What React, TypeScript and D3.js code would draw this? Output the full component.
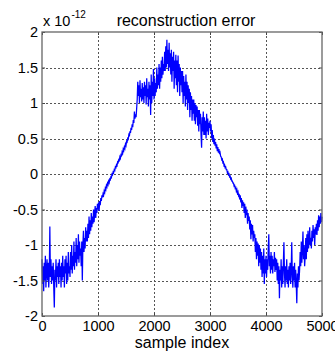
import React, { useEffect, useRef } from "react";
import * as d3 from "d3";

// reconstruction error, values in units of 1e-12, one value every 10 samples
const sampleStep = 10;
const errorValues = [
  -1.2, -1.55, -1.3, -1.65, -1.25, -1.5, -1.15, -1.6, -1.35, -1.2,
  -1.5, -1.25, -1.6, -1.4, -0.74, -1.45, -1.2, -1.55, -1.3, -1.5,
  -1.25, -1.6, -1.88, -1.35, -1.5, -1.2, -1.6, -1.3, -1.45, -1.25,
  -1.55, -1.2, -1.45, -1.3, -1.6, -1.25, -1.5, -1.15, -1.45, -1.3,
  -1.6, -1.2, -1.4, -1.15, -1.55, -1.25, -1.5, -1.1, -1.4, -1.3,
  -1.45, -1.1, -1.35, -1.0, -1.4, -1.15, -1.3, -0.95, -1.35, -1.1,
  -1.25, -0.9, -1.3, -1.0, -1.2, -0.85, -1.25, -0.95, -1.15, -1.05,
  -1.3, -0.95, -1.5, -1.0, -0.8, -1.1, -0.9, -1.05, -0.75, -0.95,
  -0.8, -0.95, -0.7, -0.9, -0.6, -0.85, -0.65, -0.8, -0.55, -0.75,
  -0.6, -0.7, -0.5, -0.68, -0.55, -0.45, -0.62, -0.48, -0.55, -0.42,
  -0.5, -0.4, -0.52, -0.38, -0.44, -0.34, -0.38, -0.3, -0.33, -0.28,
  -0.3, -0.24, -0.26, -0.2, -0.22, -0.16, -0.18, -0.13, -0.15, -0.1,
  -0.12, -0.07, -0.08, -0.04, -0.05, 0.0, -0.01, 0.03, 0.02, 0.06,
  0.05, 0.1, 0.09, 0.13, 0.12, 0.17, 0.16, 0.2, 0.19, 0.24,
  0.22, 0.27, 0.26, 0.31, 0.29, 0.35, 0.33, 0.38, 0.36, 0.42,
  0.4, 0.46, 0.45, 0.5, 0.49, 0.55, 0.53, 0.6, 0.58, 0.65,
  0.62, 0.7, 0.66, 0.76, 0.72, 0.88, 0.78, 0.84, 0.8, 0.92,
  1.05, 1.3, 1.1, 1.25, 1.0, 1.32, 1.08, 1.2, 1.02, 1.28,
  1.05, 1.22, 1.0, 1.3, 1.1, 1.25, 0.98, 1.35, 1.08, 1.2,
  0.95, 1.3, 1.05, 1.25, 0.83, 1.4, 1.0, 1.3, 1.1, 1.48,
  1.05, 1.35, 1.1, 1.28, 1.15, 1.5, 1.2, 1.4, 1.25, 1.55,
  1.2, 1.5, 1.3, 1.6, 1.35, 1.65, 1.4, 1.55, 1.45, 1.72,
  1.45, 1.8, 1.5, 1.89, 1.55, 1.75, 1.45, 1.85, 1.5, 1.7,
  1.4, 1.75, 1.3, 1.65, 1.45, 1.72, 1.2, 1.6, 1.35, 1.68,
  1.25, 1.6, 1.15, 1.67, 1.3, 1.55, 1.1, 1.5, 1.25, 1.45,
  1.15, 1.45, 1.0, 1.38, 1.1, 1.3, 0.95, 1.4, 1.05, 1.3,
  0.9, 1.25, 1.0, 1.2, 0.8, 1.15, 0.9, 1.1, 0.75, 1.05,
  0.85, 1.05, 0.75, 1.0, 0.7, 0.97, 0.8, 0.95, 0.68, 0.9,
  0.6, 0.9, 0.7, 0.85, 0.55, 0.37, 0.8, 0.6, 0.88, 0.55,
  0.8, 0.55, 0.75, 0.5, 0.85, 0.6, 0.78, 0.55, 0.72, 0.65,
  0.75, 0.6, 0.7, 0.5, 0.62, 0.45, 0.55, 0.42, 0.5, 0.4,
  0.45, 0.36, 0.42, 0.32, 0.38, 0.3, 0.35, 0.28, 0.3, 0.25,
  0.24, 0.2, 0.21, 0.16, 0.17, 0.12, 0.13, 0.09, 0.1, 0.06,
  0.06, 0.02, 0.03, -0.01, 0.0, -0.04, -0.03, -0.07, -0.06, -0.1,
  -0.1, -0.13, -0.13, -0.17, -0.16, -0.2, -0.19, -0.24, -0.22, -0.27,
  -0.25, -0.3, -0.28, -0.36, -0.3, -0.4, -0.34, -0.48, -0.37, -0.45,
  -0.4, -0.55, -0.42, -0.62, -0.46, -0.58, -0.5, -0.7, -0.55, -0.66,
  -0.6, -0.78, -0.65, -0.92, -0.7, -0.85, -0.72, -0.95, -0.8, -0.9,
  -0.85, -1.1, -0.9, -1.2, -0.95, -1.15, -0.98, -1.3, -1.0, -1.25,
  -1.05, -1.35, -1.1, -1.45, -1.15, -1.4, -1.05, -1.55, -1.2, -1.4,
  -1.15, -1.45, -1.2, -1.35, -1.05, -0.85, -1.3, -1.15, -1.4, -1.1,
  -1.35, -1.15, -1.4, -1.2, -1.3, -1.1, -1.38, -1.18, -1.35, -1.2,
  -1.5, -1.25, -1.55, -1.3, -1.75, -1.35, -1.5, -1.2, -1.6, -1.3,
  -1.55, -1.25, -0.96, -1.4, -1.6, -1.3, -1.5, -1.2, -1.55, -1.35,
  -1.6, -1.3, -1.5, -1.25, -1.55, -1.35, -0.96, -1.45, -1.6, -1.3,
  -1.5, -1.25, -1.6, -1.35, -1.55, -1.82, -1.4, -1.6, -1.3, -1.5,
  -1.35, -1.1, -1.3, -0.95, -1.25, -1.05, -0.81, -1.2, -1.0, -1.3,
  -1.15, -0.9, -1.2, -0.85, -1.1, -0.8, -1.05, -0.95, -0.75, -1.0,
  -0.9, -1.05, -0.8, -0.95, -0.72, -0.9, -0.78, -1.0, -0.75, -0.85,
  -0.7, -0.86, -0.65, -0.8, -0.58, -0.75, -0.6, -0.7, -0.55, -0.68,
  -0.6,
];

const xTicks = [0, 1000, 2000, 3000, 4000, 5000];
const yTicks = [-2, -1.5, -1, -0.5, 0, 0.5, 1, 1.5, 2];

const titleText = "reconstruction error";
const xLabelText = "sample index";

const App = () => {
  const ref = useRef<SVGSVGElement>(null);

  useEffect(() => {
    const W = 335;
    const H = 356;
    const margin = { top: 32, right: 13, bottom: 40, left: 42 };
    const width = W - margin.left - margin.right;
    const height = H - margin.top - margin.bottom;
    const font = "'Liberation Sans', Arial, Helvetica, sans-serif";

    const svg = d3.select(ref.current);
    svg.selectAll("*").remove();

    svg.append("rect").attr("width", W).attr("height", H).attr("fill", "white");

    const x = d3.scaleLinear().domain([0, 5000]).range([0, width]);
    const y = d3.scaleLinear().domain([-2, 2]).range([height, 0]);

    const chart = svg
      .append("g")
      .attr("transform", `translate(${margin.left},${margin.top})`);

    // dotted grid
    const grid = chart.append("g").attr("stroke", "#555").attr("stroke-width", 1).attr("stroke-dasharray", "2,2");
    grid
      .selectAll("line.gx")
      .data(xTicks.slice(1, -1))
      .join("line")
      .attr("x1", (d) => Math.round(x(d)) + 0.5)
      .attr("x2", (d) => Math.round(x(d)) + 0.5)
      .attr("y1", 0)
      .attr("y2", height);
    grid
      .selectAll("line.gy")
      .data(yTicks.slice(1, -1))
      .join("line")
      .attr("y1", (d) => Math.round(y(d)) + 0.5)
      .attr("y2", (d) => Math.round(y(d)) + 0.5)
      .attr("x1", 0)
      .attr("x2", width);

    // signal
    const line = d3
      .line<number>()
      .x((d, i) => x(i * sampleStep))
      .y((d) => y(d));

    chart
      .append("path")
      .datum(errorValues)
      .attr("fill", "none")
      .attr("stroke", "#0000ff")
      .attr("stroke-width", 1.25)
      .attr("d", line);

    // axes, ticks pointing inward
    const fmt = (d: number) => String(d);
    const styleAxis = (g: any) => {
      g.select(".domain").remove();
      g.selectAll("line").attr("stroke", "#444");
      g.selectAll("text").attr("fill", "black").attr("font-size", 14.5).attr("font-family", font);
    };

    chart
      .append("g")
      .attr("transform", `translate(0,${height})`)
      .call(d3.axisBottom(x).tickValues(xTicks).tickFormat(fmt as any).tickSize(-3).tickPadding(5))
      .call(styleAxis);
    chart
      .append("g")
      .call(d3.axisLeft(y).tickValues(yTicks).tickFormat(fmt as any).tickSize(-3).tickPadding(4))
      .call(styleAxis);
    chart
      .append("g")
      .attr("transform", `translate(${width},0)`)
      .call(d3.axisRight(y).tickValues(yTicks).tickFormat(() => "").tickSize(-3))
      .call(styleAxis);
    chart
      .append("g")
      .call(d3.axisTop(x).tickValues(xTicks).tickFormat(() => "").tickSize(-3))
      .call(styleAxis);

    // box
    chart
      .append("rect")
      .attr("x", 0)
      .attr("y", 0)
      .attr("width", width)
      .attr("height", height)
      .attr("fill", "none")
      .attr("stroke", "#666")
      .attr("stroke-width", 1.3);

    // exponent label
    const expo = svg
      .append("text")
      .attr("x", margin.left + 1)
      .attr("y", 26)
      .attr("font-family", font)
      .attr("font-size", 14.5)
      .attr("fill", "black");
    expo.append("tspan").text("x 10");
    expo.append("tspan").attr("dy", -8).attr("dx", 1).attr("font-size", 10).text("-12");

    svg
      .append("text")
      .attr("x", margin.left + width / 2 + 4)
      .attr("y", 26)
      .attr("text-anchor", "middle")
      .attr("font-family", font)
      .attr("font-size", 16)
      .attr("fill", "black")
      .text(titleText);

    svg
      .append("text")
      .attr("x", margin.left + width / 2)
      .attr("y", 348)
      .attr("text-anchor", "middle")
      .attr("font-family", font)
      .attr("font-size", 16)
      .attr("fill", "black")
      .text(xLabelText);
  }, []);

  return (
    <svg
      ref={ref}
      width={335}
      height={356}
      style={{ position: "absolute", left: 0, top: 0, display: "block" }}
    />
  );
};

export default App;
